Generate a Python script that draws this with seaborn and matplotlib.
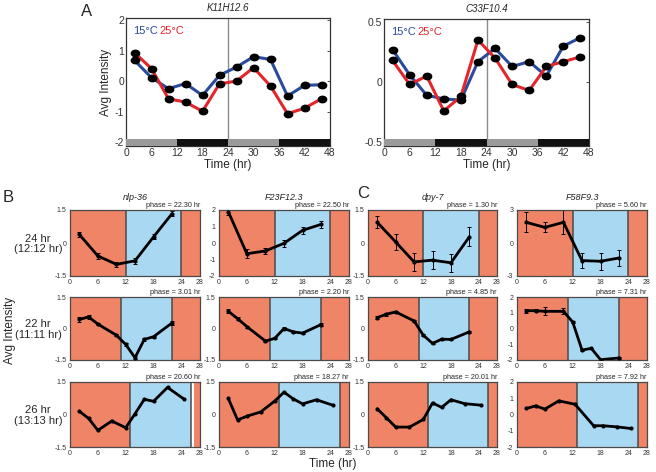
import numpy as np
import matplotlib
matplotlib.use('Agg')
import matplotlib.pyplot as plt
import seaborn as sns

sns.set_style('white')
plt.rcParams['font.family'] = ['Liberation Sans', 'DejaVu Sans']

W, H = 656, 472

# ---- panel A: two genes, 15C vs 25C over 48 hr
a_times = [2, 6, 10, 14, 18, 22, 26, 30, 34, 38, 42, 46]
k11_15c = [0.68, 0.11, -0.25, -0.08, -0.47, 0.19, 0.46, 0.80, 0.71, -0.49, -0.14, -0.12]
k11_25c = [0.93, 0.41, -0.58, -0.69, -0.99, -0.09, 0.0, 0.44, -0.16, -1.07, -0.89, -0.58]
c33_15c = [0.27, 0.06, -0.11, -0.14, -0.15, 0.17, 0.28, 0.13, 0.17, 0.05, 0.30, 0.37]
c33_25c = [0.18, -0.02, 0.05, -0.24, -0.12, 0.35, 0.20, -0.02, -0.07, 0.13, 0.17, 0.21]

# ---- panels B/C: three day lengths, four genes
genes = ['nlp-36', 'F23F12.3', 'dpy-7', 'F58F9.3']
row_labels = ['24 hr\n(12:12 hr)', '22 hr\n(11:11 hr)', '26 hr\n(13:13 hr)']
periods = [24, 22, 26]

t24 = [2, 6, 10, 14, 18, 22]
t22 = [2, 4, 6, 10, 12, 14, 16, 18, 22]
t26 = [2, 4, 6, 9, 12, 14, 16, 18, 21, 24.5]
t26_short = [2, 4, 6, 9, 12.5, 16.5, 18.5, 21.5, 24.5]

nlp36_24 = [0.39, -0.59, -0.97, -0.81, 0.28, 1.34]
f23_24 = [1.90, -0.65, -0.48, -0.02, 0.77, 1.13]
dpy7_24 = [0.94, 0.05, -0.86, -0.78, -0.90, 0.28]
f58_24 = [1.88, 1.42, 1.88, -1.60, -1.66, -1.36]
nlp36_24_err = [0.12, 0.14, 0.10, 0.14, 0.12, 0.10]
f23_24_err = [0.20, 0.28, 0.20, 0.20, 0.20, 0.22]
dpy7_24_err = [0.27, 0.35, 0.42, 0.40, 0.42, 0.43]
f58_24_err = [0.90, 0.45, 1.10, 0.70, 0.75, 0.70]

nlp36_22 = [0.43, 0.55, 0.21, -0.32, -0.76, -1.39, -0.52, -0.39, 0.27]
f23_22 = [0.82, 0.47, 0.09, -0.60, -0.47, 0.0, -0.16, -0.22, 0.19]
dpy7_22 = [0.52, 0.68, 0.79, 0.36, -0.32, -0.71, -0.51, -0.52, -0.16]
f58_22 = [1.13, 1.13, 1.09, 1.09, 0.41, -1.37, -1.26, -1.98, -1.87]
nlp36_22_err = [0.10, 0.08, 0.06, 0.05, 0.05, 0.08, 0.06, 0.05, 0.08]
f23_22_err = [0.10, 0.06, 0.05, 0.06, 0.05, 0.05, 0.05, 0.05, 0.05]
dpy7_22_err = [0.06, 0.08, 0.06, 0.05, 0.05, 0.05, 0.06, 0.05, 0.05]
f58_22_err = [0.12, 0.10, 0.25, 0.20, 0.05, 0.05, 0.05, 0.05, 0.05]

nlp36_26 = [0.15, -0.18, -0.73, -0.30, -0.61, 0.03, 0.70, 0.61, 1.25, 0.72]
f23_26 = [0.74, -0.25, -0.08, 0.12, 0.62, 1.03, 0.72, 0.49, 0.68, 0.43]
dpy7_26 = [0.26, -0.15, -0.58, -0.58, -0.23, 0.53, 0.33, 0.68, 0.50, 0.43]
f58_26 = [0.37, 0.53, 0.33, 0.84, 0.63, -0.69, -0.69, -0.76, -0.86]

phases = [['22.30', '22.50', '1.30', '5.60'],
          ['3.01', '2.20', '4.85', '7.31'],
          ['20.60', '18.27', '20.01', '7.92']]

grid_data = [
    [(t24, nlp36_24, nlp36_24_err), (t24, f23_24, f23_24_err),
     (t24, dpy7_24, dpy7_24_err), (t24, f58_24, f58_24_err)],
    [(t22, nlp36_22, nlp36_22_err), (t22, f23_22, f23_22_err),
     (t22, dpy7_22, dpy7_22_err), (t22, f58_22, f58_22_err)],
    [(t26, nlp36_26, None), (t26, f23_26, None),
     (t26, dpy7_26, None), (t26_short, f58_26, None)],
]

grid_yticks = [
    [[-1.5, 0, 1.5], [-2, -1, 0, 1, 2], [-1.5, 0, 1.5], [-3, 0, 3]],
    [[-1.5, 0, 1.5], [-1.5, 0, 1.5], [-1.5, 0, 1.5], [-2, -1, 0, 1, 2]],
    [[-1.5, 0, 1.5], [-1.5, 0, 1.5], [-1.5, 0, 1.5], [-2, -1, 0, 1, 2]],
]

BLUE = '#2a4a9e'
RED = '#e4262c'
ORANGE = '#f08466'
SKY = '#a9d8f3'
EDGE = '#4a4a4a'

fig = plt.figure(figsize=(W / 100, H / 100), dpi=100)


def px_axes(l, t, r, b):
    return fig.add_axes([l / W, 1 - b / H, (r - l) / W, (b - t) / H])


def fig_text(x, y, s, **kw):
    fig.text(x / W, 1 - y / H, s, **kw)


# ellipse marker like the dots in panel A
ang = np.linspace(0, 2 * np.pi, 40)
ell = list(zip(1.3 * np.cos(ang), np.sin(ang)))


def plot_panel_a(ax, s15, s25, ylim, yticks, title):
    ax.axvline(24, color='#8a8a8a', lw=1, zorder=1)
    sns.lineplot(x=a_times, y=s15, ax=ax, color=BLUE, lw=2.2, zorder=2)
    sns.lineplot(x=a_times, y=s25, ax=ax, color=RED, lw=2.2, zorder=2)
    ax.scatter(a_times, s15, marker=ell, s=36, color='black', zorder=3)
    ax.scatter(a_times, s25, marker=ell, s=36, color='black', zorder=3)
    frac = 0.052
    for start, c in [(0, '#9a9a9a'), (12, '#111111'), (24, '#9a9a9a'), (36, '#111111')]:
        ax.axvspan(start, start + 12, ymin=0, ymax=frac, color=c, lw=0, zorder=4)
    ax.set_xlim(0, 48)
    ax.set_ylim(*ylim)
    ax.set_xticks(range(0, 49, 6))
    ax.set_yticks(yticks)
    ax.tick_params(axis='both', labelsize=7.5, pad=1.5, colors='#333333',
                   direction='in', length=2.5, width=0.6)
    ax.tick_params(axis='y', right=True)
    for sp in ax.spines.values():
        sp.set_color('#333333')
        sp.set_linewidth(0.9)
    ax.set_xlabel('Time (hr)', fontsize=8.5, labelpad=1)
    ax.set_title(title, fontsize=7, style='italic', pad=5)
    ax.text(0.035, 0.935, '15°C', color=BLUE, fontsize=8, transform=ax.transAxes, va='top')
    ax.text(0.165, 0.935, '25°C', color=RED, fontsize=8, transform=ax.transAxes, va='top')


ax1 = px_axes(126, 18, 330, 146)
plot_panel_a(ax1, k11_15c, k11_25c, (-2.13, 2.07), [-2, -1, 0, 1, 2], 'K11H12.6')
ax1.set_yticklabels(['-2', '-1', '0', '1', '2'])
ax1.set_ylabel('Avg Intensity', fontsize=8.5, labelpad=2)

ax2 = px_axes(384, 19, 589, 146)
plot_panel_a(ax2, c33_15c, c33_25c, (-0.532, 0.525), [-0.5, 0, 0.5], 'C33F10.4')
ax2.set_yticklabels(['-0.5', '0', '0.5'])

# ---- small panels
col_x = [(70, 200), (219, 349), (368, 497), (517, 647)]
row_y = [(210, 276), (297, 360), (382, 447)]

for r in range(3):
    period = periods[r]
    half = period / 2
    for c in range(4):
        l, rr = col_x[c]
        t, b = row_y[r]
        ax = px_axes(l, t, rr, b)
        ax.axvspan(0, half, color=ORANGE, lw=0, zorder=0)
        ax.axvspan(half, period, color=SKY, lw=0, zorder=0)
        if r == 2 and c == 0:
            ax.axvspan(period + 0.8, 28, color=ORANGE, lw=0, zorder=0)
        else:
            ax.axvspan(period, 28, color=ORANGE, lw=0, zorder=0)
        ax.axvline(half, color=EDGE, lw=1.1, zorder=1)
        ax.axvline(period, color=EDGE, lw=1.1, zorder=1)

        tt, vals, err = grid_data[r][c]
        if err is not None:
            ax.errorbar(tt, vals, yerr=err, fmt='none', ecolor='black',
                        elinewidth=0.7, capsize=1.6, capthick=0.7, zorder=2)
        sns.lineplot(x=tt, y=vals, ax=ax, color='black', lw=2, marker='o',
                     markersize=3, markeredgewidth=0, zorder=3)

        yt = grid_yticks[r][c]
        ax.set_xlim(0, 28)
        ax.set_ylim(yt[0], yt[-1])
        ax.set_xticks([0, 6, 12, 18, 24, 28])
        ax.set_yticks(yt)
        ax.set_yticklabels([('%g' % v) for v in yt])
        ax.tick_params(axis='both', labelsize=5, pad=1, length=1.5, width=0.5,
                       colors='#333333', direction='out')
        for sp in ax.spines.values():
            sp.set_color(EDGE)
            sp.set_linewidth(0.9)
        ax.text(1.0, 1.02, 'phase = %s hr' % phases[r][c], transform=ax.transAxes,
                ha='right', va='bottom', fontsize=5.2)

    fig_text(38, (row_y[r][0] + row_y[r][1]) / 2 + 1, row_labels[r],
             ha='center', va='center', fontsize=8, linespacing=1.1)

for c, g in enumerate(genes):
    fig_text((col_x[c][0] + col_x[c][1]) / 2, 198, g, ha='center', va='center',
             fontsize=6.5, style='italic')

fig_text(87, 12, 'A', fontsize=12, ha='center', va='center')
fig_text(8, 198, 'B', fontsize=12, ha='center', va='center')
fig_text(363, 194, 'C', fontsize=12, ha='center', va='center')
fig_text(10, 330, 'Avg Intensity', fontsize=8.5, rotation=90, ha='center', va='center')
fig_text(333, 464, 'Time (hr)', fontsize=8.5, ha='center', va='center')

fig.savefig('out.png', dpi=100)
